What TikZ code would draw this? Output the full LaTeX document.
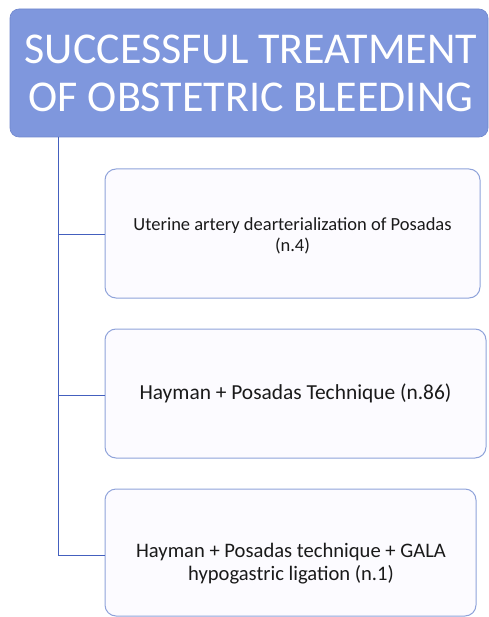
\documentclass[tikz,border=0pt]{standalone}
\usepackage{fontspec}
\setmainfont{Carlito}
\definecolor{titlefill}{HTML}{7F97DD}
\definecolor{titleedge}{HTML}{6F86CC}
\definecolor{boxedge}{HTML}{8FA3DA}
\definecolor{boxfill}{HTML}{FCFBFF}
\definecolor{linkcol}{HTML}{4460BE}
\definecolor{txt}{HTML}{1A1A1A}
\tikzset{
  titlebox/.style={draw=titleedge, fill=titlefill, rounded corners=9pt, line width=0.6pt},
  itembox/.style={draw=boxedge, fill=boxfill, rounded corners=11pt, line width=1pt},
  itemtext/.style={text=txt, align=center},
  link/.style={draw=linkcol, line width=1pt},
}
\begin{document}
\begin{tikzpicture}[x=1pt,y=-1pt]
\useasboundingbox (0,0) rectangle (488,617);
% title
\draw[titlebox] (10,9) rectangle (488,137);
\node[text=white, align=center, font=\fontsize{44}{48}\selectfont] (title) at (251,73) {SUCCESSFUL TREATMENT\\OF OBSTETRIC BLEEDING};
\coordinate (root) at (58,137);
% item boxes
\draw[itembox] (105,169) rectangle (480,298);
\node[itemtext, font=\fontsize{18.5}{21}\selectfont] (b1) at (292.5,236) {Uterine artery dearterialization of Posadas\\(n.4)};
\draw[itembox] (105,329) rectangle (486,458);
\node[itemtext, font=\fontsize{21.4}{23}\selectfont] (b2) at (295.5,393) {Hayman + Posadas Technique (n.86)};
\draw[itembox] (105,489) rectangle (476,616);
\node[itemtext, font=\fontsize{20.6}{23}\selectfont] (b3) at (291,564) {Hayman + Posadas technique + GALA\\hypogastric ligation (n.1)};
\coordinate (l1) at (105,235);
\coordinate (l2) at (105,395);
\coordinate (l3) at (105,555);
% connectors
\draw[link] (root) -- (root |- l3) -- (l3);
\draw[link] (root |- l1) -- (l1);
\draw[link] (root |- l2) -- (l2);
\end{tikzpicture}
\end{document}
